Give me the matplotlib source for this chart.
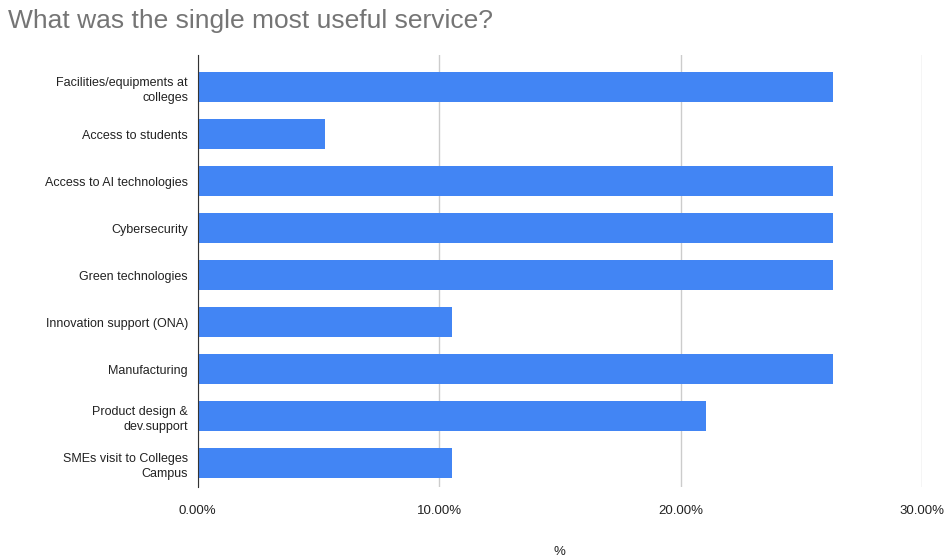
import matplotlib
matplotlib.use('Agg')
import matplotlib.pyplot as plt
from matplotlib.ticker import FuncFormatter

# survey responses, share of respondents (%)
services = [
    'Facilities/equipments at\ncolleges',
    'Access to students',
    'Access to AI technologies',
    'Cybersecurity',
    'Green technologies',
    'Innovation support (ONA)',
    'Manufacturing',
    'Product design &\ndev.support',
    'SMEs visit to Colleges\nCampus',
]
share = [26.32, 5.26, 26.32, 26.32, 26.32, 10.53, 26.32, 21.05, 10.53]
x_ticks = [0, 10, 20, 30]

plt.rcParams['font.family'] = ['Liberation Sans', 'DejaVu Sans']

fig = plt.figure(figsize=(9.51, 5.58), dpi=100)
ax = fig.add_axes([0.208, 0.127, 0.7615, 0.774])

pos = list(range(len(services)))
ax.barh(pos, share, height=0.64, color='#4285f4', zorder=3)

ax.set_xlim(0, 30)
ax.set_ylim(8.51, -0.68)
ax.set_yticks(pos)
ax.set_yticklabels(services, fontsize=9, color='#222222', linespacing=1.4)
ax.set_xticks(x_ticks)
ax.xaxis.set_major_formatter(FuncFormatter(lambda v, _: f'{v:.2f}%'))
ax.tick_params(axis='x', labelsize=9.5, length=0, pad=13)
ax.tick_params(axis='y', length=0, pad=7)
for lbl in ax.get_xticklabels():
    lbl.set_color('#222222')

ax.grid(axis='x', color='#cccccc', linewidth=1, zorder=0)
for side in ['top', 'right', 'bottom']:
    ax.spines[side].set_visible(False)
ax.spines['left'].set_color('#333333')
ax.spines['left'].set_zorder(4)

ax.set_xlabel('%', fontsize=9.5, color='#222222', labelpad=21)

fig.text(0.008, 0.962, 'What was the single most useful service?',
         fontsize=19, color='#757575', va='center', ha='left')

plt.savefig('out.png', dpi=100)
plt.close()
